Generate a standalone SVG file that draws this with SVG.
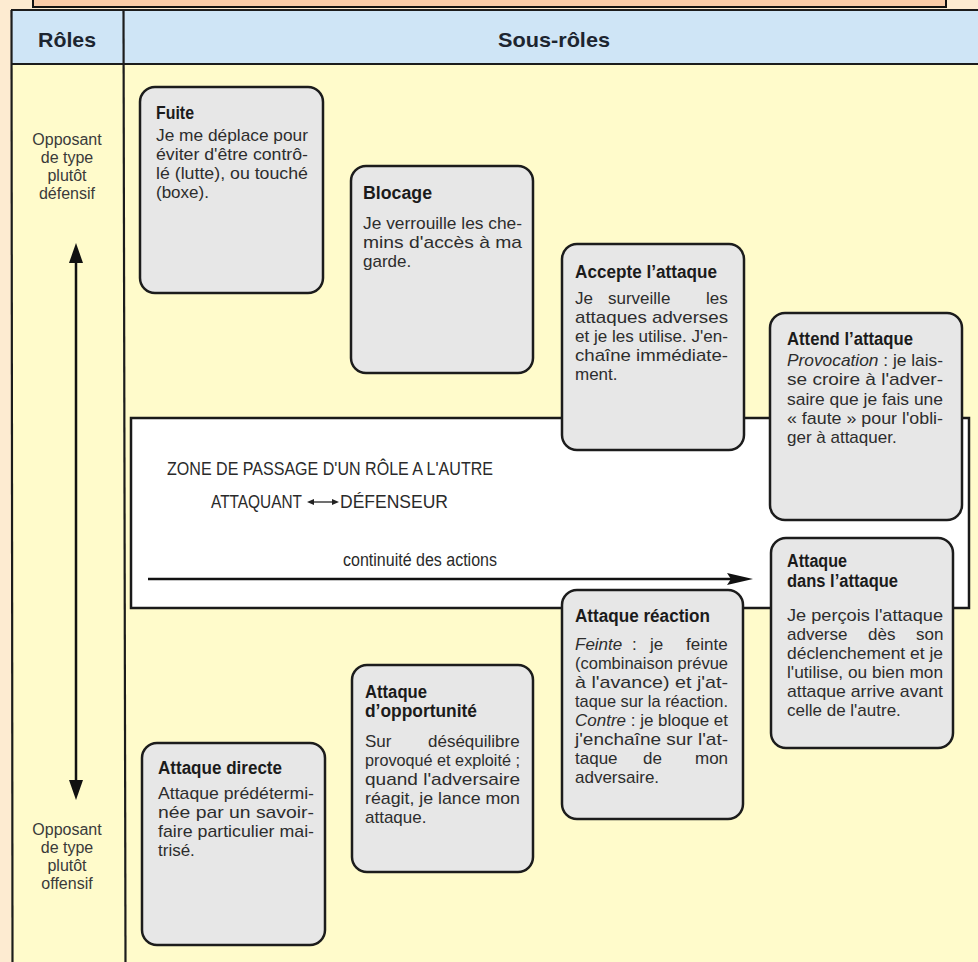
<svg xmlns="http://www.w3.org/2000/svg" width="978" height="962" viewBox="0 0 978 962">
<defs>
<style>
.title{font-family:"Liberation Sans",Arial,sans-serif;font-weight:bold;font-size:17.5px;fill:#1b1b1b}
.body{font-family:"Liberation Sans",Arial,sans-serif;font-size:17px;fill:#2d2d2d}
.box{fill:#e7e7e7;stroke:#1c1c1c;stroke-width:2.5}
.rule{stroke:#1c1c1c;stroke-width:2.2;fill:none}
.role{font-family:"Liberation Sans",Arial,sans-serif;font-size:16px;fill:#3a3a3a;text-anchor:middle}
.hdr{font-family:"Liberation Sans",Arial,sans-serif;font-weight:bold;font-size:21px;fill:#1d2530;text-anchor:middle}
.zone{font-family:"Liberation Sans",Arial,sans-serif;font-size:19px;fill:#2a2a2a}
.conn{stroke:#111;stroke-width:2.5;fill:none}
.it{font-style:italic}
</style>
<marker id="headV" viewBox="0 0 20 14" refX="8" refY="7" markerWidth="20" markerHeight="14" markerUnits="userSpaceOnUse" orient="auto-start-reverse"><path d="M0,0 L20,7 L0,14 z" fill="#111"/></marker>
<marker id="headH" viewBox="0 0 26 12" refX="14" refY="6" markerWidth="26" markerHeight="12" markerUnits="userSpaceOnUse" orient="auto"><path d="M0,0 L26,6 L0,12 L4,6 z" fill="#111"/></marker>
<marker id="headS" viewBox="0 0 7 6" refX="3" refY="3" markerWidth="7" markerHeight="6" markerUnits="userSpaceOnUse" orient="auto-start-reverse"><path d="M0,0 L7,3 L0,6 z" fill="#222"/></marker>
</defs>

<!-- page & table backgrounds -->
<rect x="0" y="0" width="978" height="962" fill="#fdebd1"/>
<rect x="33" y="-4" width="913" height="11" fill="#f8cba8" stroke="#111" stroke-width="2"/>
<rect x="11" y="10" width="967" height="54" fill="#cfe5f6"/>
<rect x="11" y="64" width="967" height="898" fill="#fffbcb"/>
<g id="table-rules">
<line class="rule" x1="11" y1="10" x2="978" y2="10"/>
<line class="rule" x1="11" y1="64" x2="978" y2="64" stroke-width="2.8"/>
<line class="rule" x1="11.5" y1="10" x2="12.5" y2="962"/>
<line class="rule" x1="123.5" y1="10" x2="125.5" y2="962"/>
</g>

<g id="header">
<text class="hdr" x="67" y="47" textLength="58" lengthAdjust="spacingAndGlyphs">Rôles</text>
<text class="hdr" x="554" y="47" textLength="112" lengthAdjust="spacingAndGlyphs">Sous-rôles</text>
</g>

<g id="role-defensif">
<text class="role" x="67" y="145">Opposant</text>
<text class="role" x="67" y="163">de type</text>
<text class="role" x="67" y="181">plutôt</text>
<text class="role" x="67" y="199">défensif</text>
</g>
<g id="role-offensif">
<text class="role" x="67" y="835">Opposant</text>
<text class="role" x="67" y="853">de type</text>
<text class="role" x="67" y="871">plutôt</text>
<text class="role" x="67" y="889">offensif</text>
</g>

<g id="zone">
<rect x="131" y="418" width="838" height="190" fill="#ffffff" stroke="#1a1a1a" stroke-width="2.5"/>
<text class="zone" x="167" y="475" textLength="326" lengthAdjust="spacingAndGlyphs">ZONE DE PASSAGE D'UN RÔLE A L'AUTRE</text>
<text class="zone" x="211" y="508" textLength="91" lengthAdjust="spacingAndGlyphs">ATTAQUANT</text>
<text class="zone" x="340" y="508" textLength="108" lengthAdjust="spacingAndGlyphs">DÉFENSEUR</text>
<text class="zone" x="343" y="566" textLength="154" lengthAdjust="spacingAndGlyphs" style="font-size:18px">continuité des actions</text>
</g>

<g id="connectors">
<line class="conn" x1="76" y1="255" x2="76" y2="788" marker-start="url(#headV)" marker-end="url(#headV)"/>
<line class="conn" x1="148" y1="579" x2="741" y2="579" marker-end="url(#headH)"/>
<line x1="311" y1="502" x2="335" y2="502" stroke="#222" stroke-width="1.3" marker-start="url(#headS)" marker-end="url(#headS)"/>
</g>

<g id="fuite">
<rect class="box" x="140" y="87" width="183" height="206" rx="15"/>
<text class="title" x="156" y="119" textLength="38" lengthAdjust="spacingAndGlyphs">Fuite</text>
<text class="body" x="156" y="141" textLength="152" lengthAdjust="spacingAndGlyphs">Je me déplace pour</text>
<text class="body" x="156" y="160" textLength="152" lengthAdjust="spacingAndGlyphs">éviter d'être contrô-</text>
<text class="body" x="156" y="179" textLength="152" lengthAdjust="spacingAndGlyphs">lé (lutte), ou touché</text>
<text class="body" x="156" y="198">(boxe).</text>
</g>

<g id="blocage">
<rect class="box" x="351" y="166" width="182" height="207" rx="15"/>
<text class="title" x="363" y="199" textLength="69" lengthAdjust="spacingAndGlyphs">Blocage</text>
<text class="body" x="363" y="229" textLength="159" lengthAdjust="spacingAndGlyphs">Je verrouille les che-</text>
<text class="body" x="363" y="248" textLength="159" lengthAdjust="spacingAndGlyphs">mins d'accès à ma</text>
<text class="body" x="363" y="267">garde.</text>
</g>

<g id="accepte">
<rect class="box" x="562" y="244" width="182" height="206" rx="15"/>
<text class="title" x="575" y="278" textLength="142" lengthAdjust="spacingAndGlyphs">Accepte l’attaque</text>
<text class="body" y="304"><tspan x="575">Je</tspan><tspan x="608">surveille</tspan><tspan x="706">les</tspan></text>
<text class="body" x="575" y="323" textLength="153" lengthAdjust="spacingAndGlyphs">attaques adverses</text>
<text class="body" x="575" y="342" textLength="153" lengthAdjust="spacingAndGlyphs">et je les utilise. J'en-</text>
<text class="body" x="575" y="361" textLength="153" lengthAdjust="spacingAndGlyphs">chaîne immédiate-</text>
<text class="body" x="575" y="380">ment.</text>
</g>

<g id="attend">
<rect class="box" x="770" y="313" width="192" height="207" rx="15"/>
<text class="title" x="787" y="345" textLength="126" lengthAdjust="spacingAndGlyphs">Attend l’attaque</text>
<text class="body" x="787" y="366" textLength="156" lengthAdjust="spacingAndGlyphs"><tspan class="it">Provocation</tspan> : je lais-</text>
<text class="body" x="787" y="385" textLength="156" lengthAdjust="spacingAndGlyphs">se croire à l'adver-</text>
<text class="body" x="787" y="405" textLength="156" lengthAdjust="spacingAndGlyphs">saire que je fais une</text>
<text class="body" x="787" y="424" textLength="156" lengthAdjust="spacingAndGlyphs">« faute » pour l'obli-</text>
<text class="body" x="787" y="443">ger à attaquer.</text>
</g>

<g id="dans-attaque">
<rect class="box" x="771" y="538" width="182" height="210" rx="15"/>
<text class="title" x="787" y="567" textLength="60" lengthAdjust="spacingAndGlyphs">Attaque</text>
<text class="title" x="787" y="587" textLength="111" lengthAdjust="spacingAndGlyphs">dans l’attaque</text>
<text class="body" x="787" y="621" textLength="156" lengthAdjust="spacingAndGlyphs">Je perçois l'attaque</text>
<text class="body" y="640"><tspan x="787">adverse</tspan><tspan x="868">dès</tspan><tspan x="916">son</tspan></text>
<text class="body" x="787" y="659" textLength="156" lengthAdjust="spacingAndGlyphs">déclenchement et je</text>
<text class="body" x="787" y="678" textLength="156" lengthAdjust="spacingAndGlyphs">l'utilise, ou bien mon</text>
<text class="body" x="787" y="697" textLength="156" lengthAdjust="spacingAndGlyphs">attaque arrive avant</text>
<text class="body" x="787" y="716">celle de l'autre.</text>
</g>

<g id="reaction">
<rect class="box" x="562" y="590" width="181" height="229" rx="15"/>
<text class="title" x="575" y="622" textLength="135" lengthAdjust="spacingAndGlyphs">Attaque réaction</text>
<text class="body" y="650"><tspan x="575" class="it">Feinte</tspan><tspan x="632">:</tspan><tspan x="650">je</tspan><tspan x="686">feinte</tspan></text>
<text class="body" x="575" y="669" textLength="153" lengthAdjust="spacingAndGlyphs">(combinaison prévue</text>
<text class="body" x="575" y="688" textLength="153" lengthAdjust="spacingAndGlyphs">à l'avance) et j'at-</text>
<text class="body" x="575" y="707" textLength="153" lengthAdjust="spacingAndGlyphs">taque sur la réaction.</text>
<text class="body" x="575" y="726" textLength="153" lengthAdjust="spacingAndGlyphs"><tspan class="it">Contre</tspan> : je bloque et</text>
<text class="body" x="575" y="745" textLength="153" lengthAdjust="spacingAndGlyphs">j'enchaîne sur l'at-</text>
<text class="body" y="764"><tspan x="575">taque</tspan><tspan x="643">de</tspan><tspan x="695">mon</tspan></text>
<text class="body" x="575" y="783">adversaire.</text>
</g>

<g id="opportunite">
<rect class="box" x="352" y="665" width="181" height="207" rx="15"/>
<text class="title" x="365" y="698" textLength="62" lengthAdjust="spacingAndGlyphs">Attaque</text>
<text class="title" x="365" y="717" textLength="112" lengthAdjust="spacingAndGlyphs">d’opportunité</text>
<text class="body" y="747"><tspan x="365">Sur</tspan><tspan x="428">déséquilibre</tspan></text>
<text class="body" x="365" y="766" textLength="155" lengthAdjust="spacingAndGlyphs">provoqué et exploité ;</text>
<text class="body" x="365" y="785" textLength="155" lengthAdjust="spacingAndGlyphs">quand l'adversaire</text>
<text class="body" x="365" y="804" textLength="155" lengthAdjust="spacingAndGlyphs">réagit, je lance mon</text>
<text class="body" x="365" y="823">attaque.</text>
</g>

<g id="directe">
<rect class="box" x="142" y="743" width="183" height="202" rx="15"/>
<text class="title" x="158" y="774" textLength="124" lengthAdjust="spacingAndGlyphs">Attaque directe</text>
<text class="body" x="158" y="799" textLength="156" lengthAdjust="spacingAndGlyphs">Attaque prédétermi-</text>
<text class="body" x="158" y="818" textLength="156" lengthAdjust="spacingAndGlyphs">née par un savoir-</text>
<text class="body" x="158" y="837" textLength="156" lengthAdjust="spacingAndGlyphs">faire particulier mai-</text>
<text class="body" x="158" y="856">trisé.</text>
</g>
</svg>
